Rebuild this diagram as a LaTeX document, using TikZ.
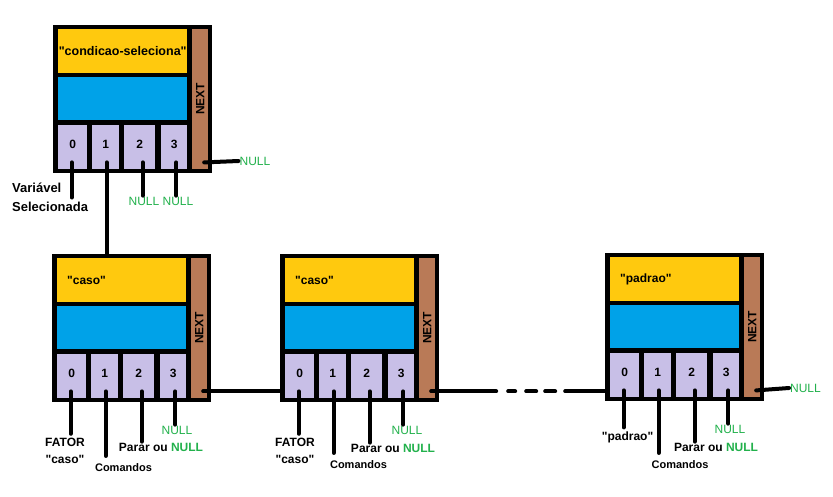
\documentclass[tikz,border=0pt]{standalone}
\usepackage{fontspec}
\setmainfont{Liberation Sans}[Ligatures=TeXOff]
\usetikzlibrary{calc}
\definecolor{gold}{HTML}{FFC90E}
\definecolor{sky}{HTML}{00A2E8}
\definecolor{lilac}{HTML}{C8BFE7}
\definecolor{rust}{HTML}{B97A57}
\definecolor{nullgreen}{HTML}{22B14C}
\begin{document}
\begin{tikzpicture}[x=1pt, y=-1pt,
    frame/.style={fill=black, inner sep=0pt, minimum width=159pt, minimum height=148pt, anchor=north west},
    field/.style={inner sep=0pt, minimum height=44pt, anchor=north west},
    slot/.style={field, fill=lilac, font=\bfseries\fontsize{12}{14}\selectfont, text height=9pt, text depth=7pt},
    ptr/.style={fill=rust, inner sep=0pt, minimum width=16pt, minimum height=140pt, anchor=north west},
    tag/.style={rotate=90, font=\bfseries\fontsize{12}{14}\selectfont},
    wire/.style={line width=4pt, line cap=round},
    lbl/.style={font=\bfseries\fontsize{12}{17}\selectfont, inner sep=1pt, align=center},
    cmd/.style={lbl, font=\bfseries\fontsize{11}{13}\selectfont, outer ysep=7pt},
    nul/.style={font=\fontsize{12}{14}\selectfont, text=nullgreen, inner sep=1pt}]
  \path[fill=white, use as bounding box] (0,0) rectangle (833,496);

  % the four records
  \foreach \n/\x/\y in {a/53/25, b/52/254, c/280/254, d/605/253}{
    \node[frame] (\n) at (\x,\y) {};
    \node[field, fill=gold, minimum width=129pt] (\n-head) at (\x+5,\y+4) {};
    \node[field, fill=sky, minimum width=129pt, minimum height=43pt] (\n-body) at (\x+5,\y+52) {};
    \node[slot, minimum width=29pt] (\n-0) at (\x+5,\y+100) {0};
    \node[slot, minimum width=27pt] (\n-1) at (\x+39,\y+100) {1};
    \node[slot, minimum width=31pt] (\n-2) at (\x+71,\y+100) {2};
    \node[slot, minimum width=26pt] (\n-3) at (\x+108,\y+100) {3};
    \node[ptr] (\n-next) at (\x+139,\y+4) {};
    \node[tag] (\n-tag) at (\n-next |- \n-body) {NEXT};
    \coordinate (\n-ptr) at ($(\n-next.south)+(4,-7)$);
    \foreach \i/\dx in {0/-1, 1/1, 2/3, 3/2}
      \coordinate (\n-p\i) at ($(\n-\i.south)+(\dx,-7)$);
  }

  % texts
  \node[lbl, font=\bfseries\fontsize{12.5}{17}\selectfont] (a-title) at (a-head) {"condicao-seleciona"};
  \foreach \n in {b,c}
    \node[lbl, anchor=west, xshift=9pt] (\n-title) at (\n-head.west) {"caso"};
  \node[lbl, anchor=west, xshift=9pt] (d-title) at (d-head.west) {"padrao"};

  \node[lbl, align=left, anchor=west, font=\bfseries\fontsize{13}{19}\selectfont] (a-var) at (11,197.5) {Variável\\Selecionada};
  \node[nul] (a-n2) at (144,201) {NULL};
  \node[nul] (a-n3) at (178,201) {NULL};
  \node[nul] (a-null) at (255,161) {NULL};

  \node[lbl, outer ysep=3pt] (b-arg) at (65,450.5) {FATOR\\"caso"};
  \node[cmd] (b-cmd) at (123.5,468) {Comandos};
  \node[lbl] (b-stop) at (161,447) {Parar ou \textcolor{nullgreen}{NULL}};
  \node[nul] (b-nul) at (177,430) {NULL};

  \node[lbl, outer ysep=3pt] (c-arg) at (295,450.5) {FATOR\\"caso"};
  \node[cmd] (c-cmd) at (358.5,465) {Comandos};
  \node[lbl] (c-stop) at (393,448) {Parar ou \textcolor{nullgreen}{NULL}};
  \node[nul] (c-nul) at (407,430) {NULL};

  \node[lbl, outer ysep=3pt] (d-arg) at (627.5,437) {"padrao"};
  \node[cmd] (d-cmd) at (680,465) {Comandos};
  \node[lbl] (d-stop) at (716,447) {Parar ou \textcolor{nullgreen}{NULL}};
  \node[nul] (d-nul) at (730,429) {NULL};
  \node[nul] (d-null) at (805.5,388) {NULL};

  % pointers
  \draw[wire] (a-p0) -- (a-p0 |- a-var);
  \draw[wire] (a-p1) -- (a-p1 |- b.north);
  \draw[wire] (a-p2) -- (a-p2 |- a-n2.north);
  \draw[wire] (a-p3) -- (a-p3 |- a-n3.north);
  \draw[wire] (a-ptr) -- (a-null.west);
  \foreach \n in {b,c,d}{
    \draw[wire] (\n-p0) -- (\n-p0 |- \n-arg.north);
    \draw[wire] (\n-p1) -- (\n-p1 |- \n-cmd.north);
    \draw[wire] (\n-p2) -- (\n-p2 |- \n-stop.north);
    \draw[wire] (\n-p3) -- (\n-p3 |- \n-nul.north);
  }
  \draw[wire] (b-ptr) -- (b-ptr -| c.west);
  \draw[wire, dash pattern=on 65pt off 12pt on 7pt off 11pt on 10pt off 9pt on 10pt off 10pt on 60pt] (c-ptr) -- (c-ptr -| d.west);
  \draw[wire] (d-ptr) -- (d-null.west);
\end{tikzpicture}
\end{document}
